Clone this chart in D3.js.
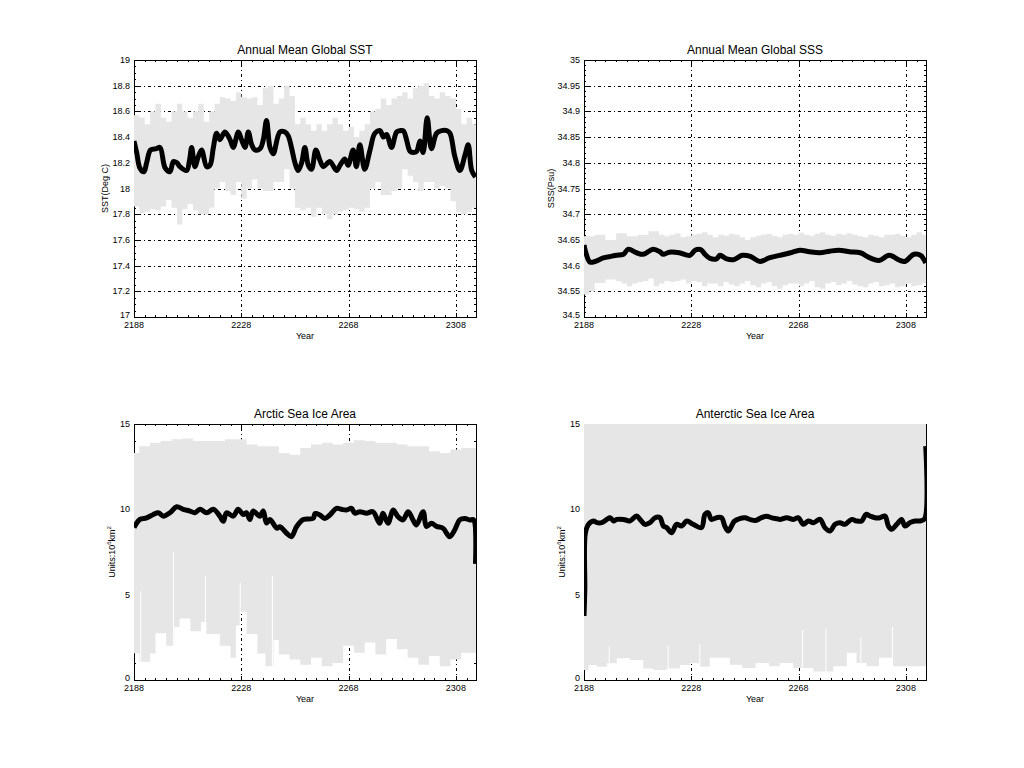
<!DOCTYPE html>
<html><head><meta charset="utf-8">
<script src="https://cdn.jsdelivr.net/npm/d3@7/dist/d3.min.js"></script>
<style>body{margin:0;background:#fff}svg{display:block}text{font-family:"Liberation Sans",Arial,sans-serif;fill:#000}</style>
</head><body>
<svg id="c" width="1024" height="768"></svg>
<script>
// ---------- data ----------
const xTicks = [2188, 2228, 2268, 2308];
const xEnd = 2315.5;
const binYears = [2188,2190,2192,2194,2196,2198,2200,2202,2204,2206,2208,2210,2212,2214,2216,2218,
  2220,2222,2224,2226,2228,2230,2232,2234,2236,2238,2240,2242,2244,2246,2248,2250,
  2252,2254,2256,2258,2260,2262,2264,2266,2268,2270,2272,2274,2276,2278,2280,2282,
  2284,2286,2288,2290,2292,2294,2296,2298,2300,2302,2304,2306,2308,2310,2312,2314];

const sstTicks = [17,17.2,17.4,17.6,17.8,18,18.2,18.4,18.6,18.8,19];
const sstHigh = [18.57,18.55,18.5,18.6,18.66,18.55,18.52,18.6,
  18.66,18.6,18.55,18.6,18.66,18.52,18.6,18.66,
  18.71,18.7,18.68,18.75,18.71,18.7,18.71,18.65,
  18.78,18.8,18.66,18.7,18.8,18.72,18.5,18.55,
  18.5,18.45,18.5,18.45,18.5,18.55,18.5,18.45,
  18.48,18.4,18.45,18.5,18.6,18.62,18.7,18.65,
  18.7,18.72,18.75,18.7,18.78,18.8,18.82,18.72,
  18.7,18.75,18.72,18.7,18.62,18.5,18.55,18.5];
const sstLow = [17.86,17.81,17.82,17.84,17.83,17.86,17.91,17.85,
  17.72,17.84,17.88,17.83,17.8,17.8,17.85,18.0,
  18.05,17.98,17.95,18.05,17.92,18.0,18.07,18.0,
  17.98,17.98,18.05,18.05,18.15,18.0,17.85,17.83,
  17.85,17.78,17.85,17.8,17.76,17.8,17.82,17.83,
  17.85,17.84,17.82,17.85,18.0,18.05,17.95,17.95,
  17.98,18.0,18.15,18.1,18.05,17.98,18.05,18.05,
  18.0,18.02,18.0,17.9,17.82,17.8,17.82,17.85];
const sstMeanYears = [2188.0,2189.0,2190.2,2191.7,2192.7,2194.2,2196.4,2197.7,2199.6,2201.4,2202.7,2204.0,2205.1,2207.6,2208.7,2209.5,2210.7,2212.0,2213.2,2215.1,2216.3,2217.6,2218.8,2220.0,2221.9,2223.8,2225.0,2226.9,2228.1,2229.4,2230.6,2231.9,2233.1,2235.0,2236.2,2237.4,2238.7,2239.9,2242.4,2244.3,2245.5,2246.8,2248.0,2249.2,2250.5,2251.7,2253.0,2254.2,2255.8,2257.3,2258.6,2261.0,2263.5,2264.8,2266.6,2267.8,2269.7,2270.9,2272.2,2274.0,2276.0,2277.8,2279.7,2281.0,2282.2,2284.0,2285.9,2287.2,2288.4,2289.6,2290.9,2292.1,2293.4,2294.6,2295.8,2297.3,2298.9,2300.8,2302.7,2304.6,2305.8,2307.6,2309.5,2311.4,2312.6,2313.9,2315.3];
const sstMean = [18.37,18.28,18.16,18.13,18.20,18.30,18.31,18.32,18.16,18.13,18.21,18.20,18.17,18.14,18.22,18.32,18.17,18.25,18.30,18.17,18.18,18.32,18.43,18.38,18.44,18.38,18.32,18.44,18.38,18.32,18.44,18.34,18.30,18.31,18.38,18.53,18.32,18.27,18.44,18.44,18.41,18.31,18.20,18.14,18.20,18.32,18.18,18.15,18.30,18.22,18.17,18.21,18.14,18.18,18.23,18.18,18.30,18.17,18.34,18.15,18.30,18.43,18.45,18.40,18.42,18.32,18.44,18.45,18.45,18.38,18.29,18.28,18.29,18.37,18.28,18.55,18.31,18.43,18.45,18.45,18.43,18.25,18.14,18.26,18.34,18.14,18.09];

const sssTicks = [34.5,34.55,34.6,34.65,34.7,34.75,34.8,34.85,34.9,34.95,35];
const sssHigh = [34.657,34.657,34.66,34.66,34.65,34.65,34.663,34.663,
  34.657,34.657,34.66,34.66,34.667,34.667,34.66,34.657,
  34.66,34.663,34.655,34.657,34.66,34.662,34.665,34.66,
  34.655,34.66,34.658,34.662,34.66,34.655,34.65,34.655,
  34.658,34.66,34.662,34.658,34.655,34.66,34.662,34.66,
  34.664,34.66,34.658,34.662,34.665,34.66,34.658,34.662,
  34.66,34.663,34.66,34.657,34.655,34.66,34.658,34.655,
  34.66,34.66,34.662,34.658,34.655,34.66,34.665,34.66];
const sssLow = [34.544,34.55,34.566,34.566,34.573,34.573,34.57,34.565,
  34.56,34.565,34.568,34.57,34.575,34.56,34.565,34.57,
  34.568,34.57,34.573,34.565,34.57,34.568,34.56,34.565,
  34.565,34.56,34.568,34.563,34.56,34.565,34.57,34.562,
  34.558,34.565,34.568,34.56,34.555,34.562,34.565,34.565,
  34.56,34.565,34.57,34.558,34.555,34.565,34.568,34.562,
  34.565,34.57,34.563,34.56,34.558,34.565,34.568,34.56,
  34.562,34.565,34.558,34.56,34.565,34.56,34.562,34.565];
const sssMeanYears = [2188.0,2188.7,2190.2,2192.1,2195.2,2198.0,2200.2,2202.7,2204.5,2207.6,2210.1,2213.8,2216.3,2217.5,2219.8,2223.5,2227.5,2229.4,2231.5,2233.1,2235.0,2237.4,2238.7,2241.2,2244.0,2247.0,2250.0,2253.6,2257.0,2261.0,2265.0,2268.5,2272.0,2276.0,2279.5,2283.0,2287.0,2291.0,2294.6,2298.0,2301.8,2305.8,2307.6,2311.0,2313.5,2315.4];
const sssMean = [34.640,34.625,34.607,34.608,34.615,34.618,34.620,34.622,34.632,34.625,34.622,34.632,34.627,34.622,34.626,34.625,34.620,34.630,34.631,34.622,34.614,34.613,34.620,34.613,34.612,34.620,34.618,34.608,34.615,34.620,34.625,34.630,34.627,34.625,34.628,34.630,34.627,34.625,34.615,34.610,34.620,34.610,34.608,34.622,34.620,34.605];

const iceTicks = [0,5,10,15];
const arcticHighYears = [2188,2190,2194,2198,2202,2206,2210,2214,2218,2222,2226,2230,2234,2238,2242,2246,2250,2254,2258,2262,2266,2270,2274,2278,2282,2286,2290,2294,2298,2302,2306,2310];
const arcticHigh = [13.3,13.7,13.9,14.0,14.1,14.15,14.0,14.0,14.0,14.1,14.1,13.8,13.7,13.7,13.3,13.2,13.6,13.8,13.9,13.8,13.9,14.05,14.0,13.9,13.9,13.8,13.7,13.7,13.4,13.3,13.5,13.6];
const arcticLowYears = [2188,2190,2194,2196,2200,2203,2205,2209,2213,2215,2220,2224,2226,2227.5,2230,2234,2237,2240,2242,2246,2250,2254,2258,2262,2266,2270,2274,2278,2282,2286,2290,2294,2298,2302,2306,2310];
const arcticLow = [1.57,1.07,1.56,2.74,2.0,3.1,3.6,2.85,3.4,2.7,2.0,1.3,3.2,4.0,2.7,1.56,0.8,2.34,1.5,1.2,0.9,1.3,0.8,1.0,2.0,1.6,2.2,1.5,2.4,1.8,1.3,0.9,1.4,0.8,1.2,1.6];
const arcticSpikeYears = [2190.5,2202.7,2214.6,2227.6,2239.6];
const arcticSpikes = [5.2,7.5,6.1,5.7,6.1];
const arcticMeanYears = [2188.0,2190.2,2192.7,2195.2,2197.1,2199.0,2201.4,2203.9,2206.4,2208.9,2210.7,2212.6,2215.1,2217.6,2220.0,2221.3,2222.5,2225.0,2226.8,2228.7,2229.9,2231.2,2232.4,2234.9,2236.2,2237.4,2238.7,2241.2,2242.4,2244.9,2246.7,2248.6,2251.1,2254.8,2255.5,2257.3,2259.1,2261.0,2263.5,2265.3,2267.2,2269.1,2270.3,2272.2,2274.7,2277.1,2279.6,2280.8,2282.7,2284.6,2286.4,2288.3,2290.2,2292.0,2293.3,2295.8,2297.0,2298.9,2300.8,2303.2,2305.7,2307.6,2309.4,2311.3,2313.2,2314.6,2315.3];
const arcticMean = [8.93,9.41,9.5,9.7,9.8,9.6,9.8,10.15,10.0,9.9,9.8,10.0,9.8,10.0,9.6,9.3,9.8,9.6,10.0,9.7,9.8,9.4,9.9,9.6,9.9,9.2,9.4,8.9,8.98,8.6,8.4,8.98,9.4,9.47,9.75,9.67,9.47,9.67,10.06,10.0,9.96,10.06,9.77,9.86,9.77,9.86,9.18,9.77,9.18,9.96,9.57,9.38,9.86,9.38,9.08,9.86,9.0,9.18,9.0,8.89,8.4,8.8,9.38,9.47,9.38,9.38,6.8];

const antarcticHighYears = [2188];
const antarcticHigh = [15.4];
const antarcticLowYears = [2188,2189.7,2192.8,2196.5,2200.2,2205.1,2210.1,2213.8,2218.8,2223.8,2227.5,2231.2,2234.9,2242.4,2247,2252,2257,2261,2266,2273.5,2281,2286,2289.6,2293.4,2298,2303,2308];
const antarcticLow = [0.59,0.88,0.78,0.98,1.27,1.17,0.68,0.59,0.68,0.88,0.98,0.78,1.3,0.9,0.7,1.0,0.8,1.0,0.7,0.5,0.8,1.6,1.0,0.8,1.3,0.8,0.8];
const antarcticSpikeYears = [2197.4,2219.4,2231.2,2269.5,2278.2,2291.2,2303];
const antarcticSpikes = [1.95,2.0,2.1,2.93,3.0,2.5,3.1];
const antarcticMeanYears = [2188.0,2188.3,2188.5,2189.7,2191.5,2192.8,2194.6,2196.5,2197.7,2199.0,2200.2,2202.7,2205.1,2207.6,2208.9,2210.7,2212.6,2214.5,2216.3,2217.6,2218.8,2220.7,2222.5,2224.4,2226.3,2228.7,2231.8,2233.1,2234.3,2235.5,2237.4,2239.3,2240.5,2241.8,2244,2246,2248,2250,2252,2254,2256,2258,2260,2261.1,2263.6,2266.1,2267.9,2269.8,2271.6,2273.5,2276.0,2277.8,2279.7,2281.6,2283.4,2285.3,2287.8,2289.6,2291.5,2293.1,2294.6,2296.5,2298.3,2300.2,2301.5,2302.7,2304.6,2306.4,2307.7,2309.5,2311.4,2313.3,2315.0,2315.4];
const antarcticMean = [3.75,5.3,8.6,9.12,9.32,9.22,9.22,9.41,9.51,9.32,9.41,9.41,9.32,9.61,9.41,9.12,9.22,9.51,9.51,9.02,8.93,8.63,9.12,9.02,9.32,9.12,8.93,9.71,9.8,9.41,9.51,9.51,9.02,8.73,9.3,9.45,9.5,9.4,9.35,9.5,9.6,9.5,9.45,9.41,9.51,9.41,9.51,9.12,9.32,9.22,9.41,8.93,8.73,9.12,9.22,9.12,9.41,9.32,9.32,9.71,9.61,9.51,9.51,9.61,9.02,8.83,9.12,9.41,9.02,9.22,9.32,9.32,9.45,13.7];

// ---------- layout ----------
const panels = [
  {title:"Annual Mean Global SST", ylab:"SST(Deg C)", yoff:29, dom:[17,19], ticks:sstTicks, minor:0.05,
   hiY:binYears, hi:sstHigh, loY:binYears, lo:sstLow, mY:sstMeanYears, m:sstMean, sY:[], s:[], box:{x:134,y:60,w:342,h:257}},
  {title:"Annual Mean Global SSS", ylab:"SSS(Psu)", yoff:33, dom:[34.5,35], ticks:sssTicks, minor:0.01,
   hiY:binYears, hi:sssHigh, loY:binYears, lo:sssLow, mY:sssMeanYears, m:sssMean, sY:[], s:[], box:{x:584,y:60,w:342,h:257}},
  {title:"Arctic Sea Ice Area", ylab:"ice", yoff:22, dom:[0,15], ticks:iceTicks, minor:1,
   hiY:arcticHighYears, hi:arcticHigh, loY:arcticLowYears, lo:arcticLow, mY:arcticMeanYears, m:arcticMean, sY:arcticSpikeYears, s:arcticSpikes, box:{x:134,y:424,w:342,h:256}},
  {title:"Anterctic Sea Ice Area", ylab:"ice", yoff:22, dom:[0,15], ticks:iceTicks, minor:1,
   hiY:antarcticHighYears, hi:antarcticHigh, loY:antarcticLowYears, lo:antarcticLow, mY:antarcticMeanYears, m:antarcticMean, sY:antarcticSpikeYears, s:antarcticSpikes, box:{x:584,y:424,w:342,h:256}}
];

const svg = d3.select("#c");
const GRAY = "#e6e6e6";
const fmt = v => String(+v.toFixed(3));

function stepVerts(years, vals, xs, ys) {
  const out = [];
  vals.forEach((v, i) => {
    const x0 = xs(years[i]);
    const x1 = xs(i + 1 < years.length ? years[i + 1] : xEnd);
    out.push([x0, ys(v)], [x1, ys(v)]);
  });
  return out;
}

panels.forEach((p, pi) => {
  const b = p.box;
  const x = d3.scaleLinear().domain([2188, xEnd]).range([b.x, b.x + b.w]);
  const y = d3.scaleLinear().domain(p.dom).range([b.y + b.h, b.y]);
  const g = svg.append("g");
  const clipId = "clip" + pi;
  svg.append("clipPath").attr("id", clipId).append("rect")
    .attr("x", b.x).attr("y", b.y).attr("width", b.w + 1).attr("height", b.h);

  // grid
  const grid = g.append("g").attr("stroke", "#000").attr("stroke-width", 1)
    .attr("stroke-dasharray", "1,3,3,3").attr("shape-rendering", "crispEdges");
  xTicks.forEach(t => {
    if (Math.abs(x(t) - b.x) < 1) return;
    grid.append("line").attr("x1", Math.round(x(t)) + 0.5).attr("x2", Math.round(x(t)) + 0.5)
      .attr("y1", b.y).attr("y2", b.y + b.h);
  });
  p.ticks.forEach((t, i) => {
    if (i === 0 || i === p.ticks.length - 1) return;
    grid.append("line").attr("y1", Math.round(y(t)) + 0.5).attr("y2", Math.round(y(t)) + 0.5)
      .attr("x1", b.x).attr("x2", b.x + b.w);
  });

  // box + ticks
  const ax = g.append("g").attr("stroke", "#000").attr("stroke-width", 1).attr("shape-rendering", "crispEdges");
  ax.append("rect").attr("x", b.x + 0.5).attr("y", b.y + 0.5).attr("width", b.w).attr("height", b.h).attr("fill", "none");
  const xMinor = d3.range(2192, xEnd, 4).filter(t => !xTicks.includes(t));
  const tk = (xv, len) => {
    const px = Math.round(x(xv)) + 0.5;
    ax.append("line").attr("x1", px).attr("x2", px).attr("y1", b.y + b.h).attr("y2", b.y + b.h - len);
    ax.append("line").attr("x1", px).attr("x2", px).attr("y1", b.y).attr("y2", b.y + len);
  };
  xTicks.forEach(t => tk(t, 4));
  xMinor.forEach(t => tk(t, 2));
  const ymin = d3.range(p.dom[0], p.dom[1] + 1e-9, p.minor);
  const tky = (yv, len) => {
    const py = Math.round(y(yv)) + 0.5;
    ax.append("line").attr("y1", py).attr("y2", py).attr("x1", b.x).attr("x2", b.x + len);
    ax.append("line").attr("y1", py).attr("y2", py).attr("x1", b.x + b.w).attr("x2", b.x + b.w - len);
  };
  ymin.forEach(t => tky(t, 2));
  p.ticks.forEach(t => tky(t, 4));

  // data
  const dg = svg.append("g").attr("clip-path", `url(#${clipId})`);
  const top = stepVerts(p.hiY, p.hi, x, y);
  const bot = stepVerts(p.loY, p.lo, x, y).reverse();
  dg.append("path").attr("d", d3.line()(top.concat(bot)) + "Z").attr("fill", GRAY);
  p.s.forEach((v, i) => {
    dg.append("line").attr("x1", x(p.sY[i])).attr("x2", x(p.sY[i]))
      .attr("y1", y(p.dom[0])).attr("y2", y(v)).attr("stroke", "#fff").attr("stroke-width", 1);
  });
  const pts = p.m.map((v, i) => [x(p.mY[i]), y(v)]);
  dg.append("path").attr("d", d3.line().curve(d3.curveCatmullRom.alpha(0.5))(pts))
    .attr("fill", "none").attr("stroke", "#000").attr("stroke-width", 5).attr("stroke-linejoin", "round");

  // labels
  const tl = svg.append("g").attr("font-size", 9);
  p.ticks.forEach((t, i) => {
    tl.append("text").attr("x", b.x - 4).attr("y", y(t) + (i === 0 ? 1 : 3)).attr("text-anchor", "end").text(fmt(t));
  });
  xTicks.forEach(t => {
    tl.append("text").attr("x", x(t)).attr("y", b.y + b.h + 11).attr("text-anchor", "middle").text(t);
  });
  svg.append("text").attr("x", b.x + b.w / 2).attr("y", b.y + b.h + 22).attr("text-anchor", "middle")
    .attr("font-size", 9).text("Year");
  svg.append("text").attr("x", b.x + b.w / 2).attr("y", b.y - 6).attr("text-anchor", "middle")
    .attr("font-size", 12).text(p.title);
  const yl = svg.append("text").attr("font-size", 9).attr("text-anchor", "middle")
    .attr("transform", `translate(${b.x - p.yoff + 3},${b.y + b.h / 2}) rotate(-90)`);
  if (p.ylab === "ice") {
    yl.append("tspan").text("Units:10");
    yl.append("tspan").attr("dy", -4).attr("font-size", 6).text("6");
    yl.append("tspan").attr("dy", 4).text("km");
    yl.append("tspan").attr("dy", -4).attr("font-size", 6).text("2");
  } else {
    yl.text(p.ylab);
  }
});
</script>
</body></html>
